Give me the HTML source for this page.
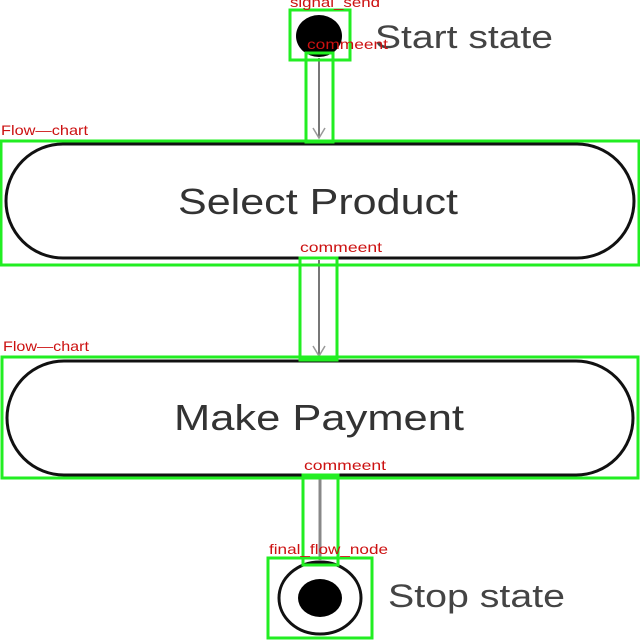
<!DOCTYPE html>
<html><head><style>html,body{margin:0;padding:0;background:#fff}svg{display:block}</style></head>
<body>
<svg width="640" height="640" viewBox="0 0 640 640" xmlns="http://www.w3.org/2000/svg">
<rect width="640" height="640" fill="#fff"/>
<ellipse cx="319" cy="36" rx="23" ry="21" fill="#000"/>
<text x="375" y="48" font-family="Liberation Sans, sans-serif" font-size="32" fill="#444" textLength="178" lengthAdjust="spacingAndGlyphs">Start state</text>
<line x1="319" y1="58" x2="319" y2="138" stroke="#777" stroke-width="2"/>
<path d="M313 128 L319 138 L325 128" fill="none" stroke="#999" stroke-width="1.5"/>
<rect x="6" y="144" width="628" height="114" rx="57" ry="57" fill="#fff" stroke="#111" stroke-width="3"/>
<text x="178" y="214" font-family="Liberation Sans, sans-serif" font-size="36" fill="#333" textLength="280" lengthAdjust="spacingAndGlyphs">Select Product</text>
<line x1="319" y1="260" x2="319" y2="355" stroke="#777" stroke-width="2"/>
<path d="M313 346 L319 356 L325 346" fill="none" stroke="#999" stroke-width="1.5"/>
<rect x="7" y="361" width="626" height="114" rx="57" ry="57" fill="#fff" stroke="#111" stroke-width="3"/>
<text x="174" y="430" font-family="Liberation Sans, sans-serif" font-size="36" fill="#333" textLength="290" lengthAdjust="spacingAndGlyphs">Make Payment</text>
<line x1="320" y1="477" x2="320" y2="560" stroke="#888" stroke-width="3"/>
<ellipse cx="320" cy="598" rx="41" ry="36" fill="#fff" stroke="#111" stroke-width="3"/>
<ellipse cx="320" cy="598" rx="22" ry="19" fill="#000"/>
<text x="388" y="607" font-family="Liberation Sans, sans-serif" font-size="32" fill="#444" textLength="177" lengthAdjust="spacingAndGlyphs">Stop state</text>
<g fill="none" stroke="#22ee22" stroke-width="3">
<rect x="290" y="10" width="60" height="50"/>
<rect x="306" y="53" width="27" height="89"/>
<rect x="1" y="141" width="638" height="124"/>
<rect x="300" y="258" width="37" height="102"/>
<rect x="2" y="357" width="636" height="121"/>
<rect x="303" y="475" width="35" height="90"/>
<rect x="268" y="558" width="104" height="80"/>
</g>
<g font-family="Liberation Sans, sans-serif" font-size="14" fill="#cc1111" lengthAdjust="spacingAndGlyphs">
<text x="290" y="7" textLength="90" lengthAdjust="spacingAndGlyphs">signal_send</text>
<text x="307" y="49" textLength="81" lengthAdjust="spacingAndGlyphs">commeent</text>
<text x="1" y="135" textLength="87" lengthAdjust="spacingAndGlyphs">Flow—chart</text>
<text x="300" y="252" textLength="82" lengthAdjust="spacingAndGlyphs">commeent</text>
<text x="3" y="351" textLength="86" lengthAdjust="spacingAndGlyphs">Flow—chart</text>
<text x="304" y="470" textLength="82" lengthAdjust="spacingAndGlyphs">commeent</text>
<text x="269" y="554" textLength="119" lengthAdjust="spacingAndGlyphs">final_flow_node</text>
</g>
</svg>
</body></html>
